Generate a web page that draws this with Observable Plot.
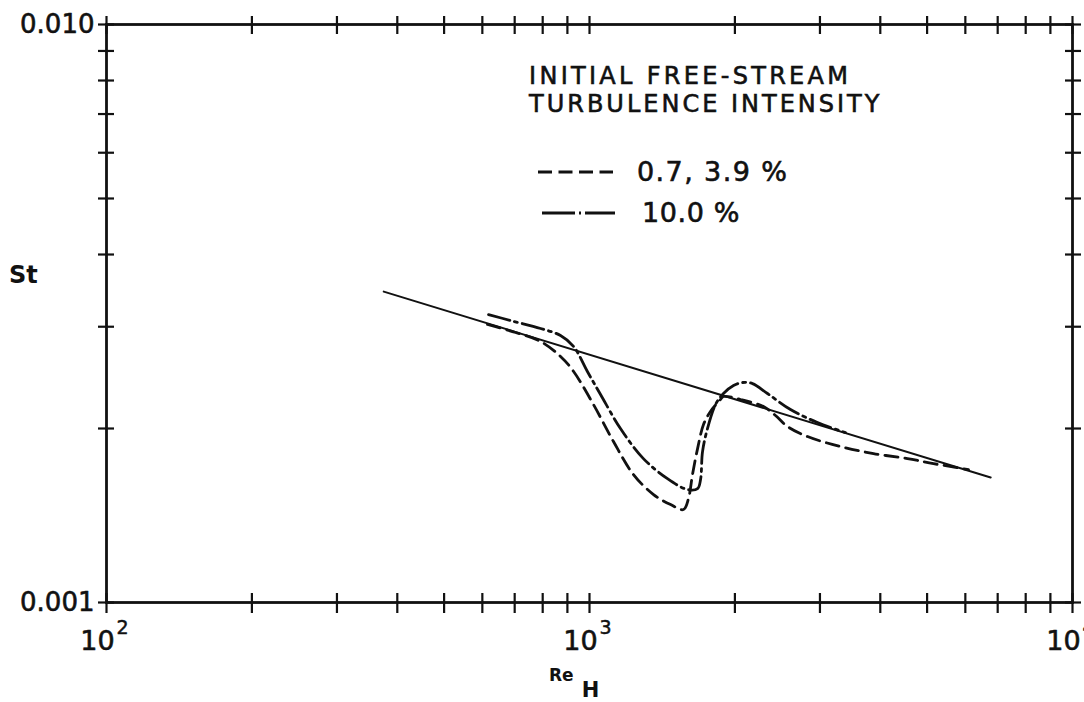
<!DOCTYPE html>
<html>
<head>
<meta charset="utf-8">
<script src="https://cdn.jsdelivr.net/npm/d3@7"></script>
<script src="https://cdn.jsdelivr.net/npm/@observablehq/plot@0.6"></script>
<style>
html, body { margin: 0; padding: 0; background: #fff; }
#wrap { position: relative; width: 1084px; height: 702px; font-family: "DejaVu Sans", sans-serif; color: #111; }
#wrap svg { display: block; }
.ov { position: absolute; white-space: nowrap; line-height: 0.95; -webkit-text-stroke: 0.6px #111; }
</style>
</head>
<body>
<div id="wrap"></div>
<script>
// ---- data ----
// Solid reference line (flat-plate correlation)
const solidRe = [375, 6770];
const solidSt = [0.00345, 0.001645];

// Dashed curve: initial FST 0.7, 3.9 %
const dashRe = [615, 703, 792, 871, 927, 1019, 1121, 1233, 1357, 1472, 1565, 1603, 1634, 1674, 1722, 1780, 1867, 1894, 2054, 2292, 2427, 2570, 2827, 3309, 3873, 4553, 5155, 6091];
const dashSt = [0.003027, 0.002932, 0.002829, 0.002665, 0.002510, 0.002201, 0.001899, 0.001665, 0.001537, 0.001477, 0.001448, 0.001513, 0.001665, 0.001846, 0.002032, 0.002140, 0.002245, 0.002272, 0.002245, 0.002183, 0.002106, 0.002016, 0.001937, 0.001861, 0.001810, 0.001774, 0.001739, 0.001698];

// Dash-dot curve: initial FST 10.0 %
const dotRe = [618, 686, 792, 871, 927, 990, 1054, 1159, 1293, 1450, 1596, 1674, 1698, 1714, 1755, 1824, 1894, 1987, 2074, 2175, 2336, 2607, 2965, 3388];
const dotSt = [0.003149, 0.003075, 0.002979, 0.002897, 0.002773, 0.002510, 0.002290, 0.002000, 0.001774, 0.001638, 0.001568, 0.001574, 0.001632, 0.001824, 0.002000, 0.002201, 0.002299, 0.002373, 0.002402, 0.002392, 0.002299, 0.002157, 0.002048, 0.001968];

// Axis ticks and labels
const xTickValues = [100, 200, 300, 400, 500, 600, 700, 800, 900, 1000, 2000, 3000, 4000, 5000, 6000, 7000, 8000, 9000, 10000];
const yTickValues = [0.001, 0.002, 0.003, 0.004, 0.005, 0.006, 0.007, 0.008, 0.009, 0.010];
const xLabelValues = [100, 1000, 10000];
const xLabelBase = ["10", "10", "10"];
const xLabelExp = ["2", "3", "4"];
const yLabelValues = [0.001, 0.010];
const yLabelText = ["0.001", "0.010"];

const legendTitle = ["INITIAL FREE-STREAM", "TURBULENCE INTENSITY"];
const seriesNames = ["0.7, 3.9 %", "10.0 %"];
const yTitle = "St";
const xTitle = "Re";
const xTitleSub = "H";

// ---- build tables ----
const solid = solidRe.map((r, i) => ({re: r, st: solidSt[i]}));
const dashed = dashRe.map((r, i) => ({re: r, st: dashSt[i]}));
const dashdot = dotRe.map((r, i) => ({re: r, st: dotSt[i]}));
const xLabels = xLabelValues.map((v, i) => ({v, base: xLabelBase[i], exp: xLabelExp[i]}));
const yLabels = yLabelValues.map((v, i) => ({v, t: yLabelText[i]}));

const ink = "#111";
const W = 1084, H = 702;

const chart = Plot.plot({
  width: W,
  height: H,
  marginLeft: 106,
  marginRight: 12,
  marginTop: 24,
  marginBottom: 100,
  style: {background: "#fff", fontFamily: "DejaVu Sans, sans-serif", color: ink, overflow: "visible"},
  x: {type: "log", domain: [100, 10000]},
  y: {type: "log", domain: [0.001, 0.010]},
  marks: [
    Plot.frame({stroke: ink, strokeWidth: 2.8}),
    // crossing ticks on all four sides
    Plot.axisX(xTickValues, {anchor: "bottom", tickSize: 20, dy: -9, tickFormat: () => "", label: null, stroke: ink, strokeWidth: 2.2}),
    Plot.axisX(xTickValues, {anchor: "top", tickSize: 18, dy: 9, tickFormat: () => "", label: null, stroke: ink, strokeWidth: 2.2}),
    Plot.axisY(yTickValues, {anchor: "left", tickSize: 16, dx: 8, tickFormat: () => "", label: null, stroke: ink, strokeWidth: 2.2}),
    Plot.axisY(yTickValues, {anchor: "right", tickSize: 16, dx: -8, tickFormat: () => "", label: null, stroke: ink, strokeWidth: 2.2}),
    // y tick labels
    Plot.text(yLabels, {x: 100, y: "v", text: "t", textAnchor: "end", dx: -12, fontSize: 26, fill: ink, stroke: ink, strokeWidth: 0.6}),
    // x tick labels (10 with superscript exponent)
    Plot.text(xLabels, {x: "v", y: 0.001, text: "base", dx: -9, dy: 39, fontSize: 27, fill: ink, stroke: ink, strokeWidth: 0.6}),
    Plot.text(xLabels, {x: "v", y: 0.001, text: "exp", dx: 16, dy: 25, fontSize: 19, fill: ink, stroke: ink, strokeWidth: 0.5}),
    // curves
    Plot.line(solid, {x: "re", y: "st", stroke: ink, strokeWidth: 2}),
    Plot.line(dashed, {x: "re", y: "st", stroke: ink, strokeWidth: 2.8, strokeDasharray: "13,7", curve: "catmull-rom"}),
    Plot.line(dashdot, {x: "re", y: "st", stroke: ink, strokeWidth: 2.8, strokeDasharray: "22,5,3,5", curve: "catmull-rom"})
  ]
});

const wrap = document.getElementById("wrap");
wrap.appendChild(chart);

// overlay texts: legend and axis titles
function addDiv(html, css) {
  const d = document.createElement("div");
  d.className = "ov";
  d.innerHTML = html;
  Object.assign(d.style, css);
  wrap.appendChild(d);
  return d;
}
addDiv(legendTitle[0], {left: "529px", top: "62px", fontSize: "24px", lineHeight: "28px", letterSpacing: "3.3px"});
addDiv(legendTitle[1], {left: "529px", top: "90px", fontSize: "24px", lineHeight: "28px", letterSpacing: "3.0px"});
addDiv(seriesNames[0], {left: "637px", top: "159px", fontSize: "27px", letterSpacing: "1.4px"});
addDiv(seriesNames[1], {left: "642px", top: "200px", fontSize: "27px", letterSpacing: "0.6px"});
addDiv(yTitle, {left: "9px", top: "264px", fontSize: "24px", fontWeight: "bold", webkitTextStroke: "0px"});
addDiv(xTitle + '<span style="font-size:21px;position:relative;top:16px;margin-left:8px;">' + xTitleSub + '</span>', {left: "549px", top: "665px", fontSize: "17px", fontWeight: "bold", webkitTextStroke: "0px"});

// legend line samples
const ns = "http://www.w3.org/2000/svg";
const lsvg = document.createElementNS(ns, "svg");
lsvg.setAttribute("width", W);
lsvg.setAttribute("height", H);
lsvg.style.position = "absolute";
lsvg.style.left = "0";
lsvg.style.top = "0";
lsvg.style.pointerEvents = "none";
[[538, 613, 172, "14,6.5"], [542, 615, 213, "33,4,2,4,40"]].forEach(([x1, x2, y, da]) => {
  const l = document.createElementNS(ns, "line");
  l.setAttribute("x1", x1); l.setAttribute("x2", x2);
  l.setAttribute("y1", y); l.setAttribute("y2", y);
  l.setAttribute("stroke", ink);
  l.setAttribute("stroke-width", 3);
  l.setAttribute("stroke-dasharray", da);
  lsvg.appendChild(l);
});
wrap.appendChild(lsvg);
</script>
</body>
</html>
